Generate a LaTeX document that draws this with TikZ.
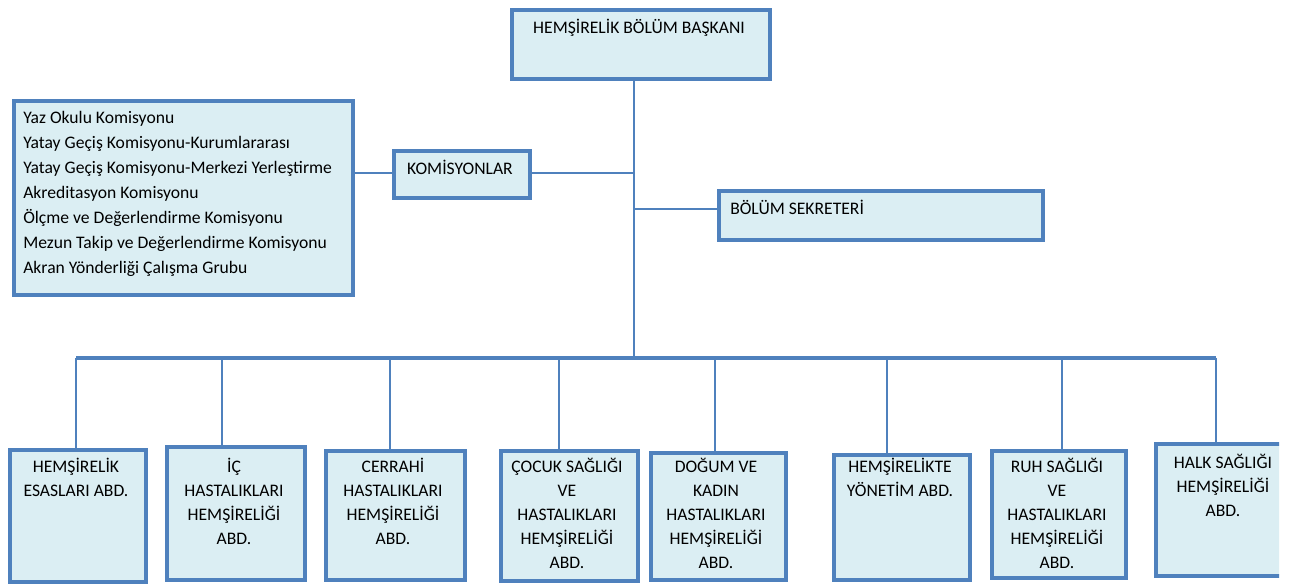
\documentclass[tikz,border=0pt]{standalone}
\usepackage{fontspec}
\setmainfont{Carlito}
\usepackage{xcolor}
\definecolor{boxBlue}{RGB}{79,129,189}
\definecolor{boxFill}{RGB}{219,238,243}

\begin{document}
\begin{tikzpicture}[x=0.75pt, y=-0.75pt,
    box/.style={draw=boxBlue, fill=boxFill, line width=3pt, anchor=north west, inner sep=0pt},
    txt/.style={inner sep=0pt, font=\fontsize{13.2}{18}\selectfont},
    abd/.style={txt, anchor=base, text width=100pt, align=flush center},
    link/.style={draw=boxBlue, line width=2.2pt}]
    \newcommand\pxu{0.75pt}
    \newcommand\busy{358}

    \useasboundingbox (0,0) rectangle (1300,584);

    % top of the chart
    \node[box, minimum width=258*\pxu, minimum height=69*\pxu] (baskan) at (510,8) {};
    \node[txt, anchor=base] (baskanT) at (639,34) {HEMŞİRELİK BÖLÜM BAŞKANI};

    \node[box, minimum width=339*\pxu, minimum height=194*\pxu] (komlist) at (12,99) {};
    \node[txt, anchor=base west, text width=320*\pxu, align=flush left, font=\fontsize{13.2}{18.75}\selectfont] (komlistT) at (23,124)
        {Yaz Okulu Komisyonu\\
         Yatay Geçiş Komisyonu-Kurumlararası\\
         Yatay Geçiş Komisyonu-Merkezi Yerleştirme\\
         Akreditasyon Komisyonu\\
         Ölçme ve Değerlendirme Komisyonu\\
         Mezun Takip ve Değerlendirme Komisyonu\\
         Akran Yönderliği Çalışma Grubu};

    \node[box, minimum width=136*\pxu, minimum height=47*\pxu] (kom) at (392,149) {};
    \node[txt, anchor=base] (komT) at (460,175) {KOMİSYONLAR};

    \node[box, minimum width=324*\pxu, minimum height=49*\pxu] (sek) at (717,189) {};
    \node[txt, anchor=base west] (sekT) at (730,215) {BÖLÜM SEKRETERİ};

    % departments
    \node[box, minimum width=136*\pxu, minimum height=132*\pxu] (esas) at (8,448) {};
    \node[abd] (esasT) at (76,473) {HEMŞİRELİK\\ESASLARI ABD.};

    \node[box, minimum width=138*\pxu, minimum height=133*\pxu] (ic) at (165,445) {};
    \node[abd] (icT) at (234,473) {İÇ\\HASTALIKLARI\\HEMŞİRELİĞİ\\ABD.};

    \node[box, minimum width=139*\pxu, minimum height=129*\pxu] (cerrahi) at (324,449) {};
    \node[abd] (cerrahiT) at (393,473) {CERRAHİ\\HASTALIKLARI\\HEMŞİRELİĞİ\\ABD.};

    \node[box, minimum width=137*\pxu, minimum height=130*\pxu] (cocuk) at (499,449) {};
    \node[abd] (cocukT) at (567,473) {ÇOCUK SAĞLIĞI\\VE\\HASTALIKLARI\\HEMŞİRELİĞİ\\ABD.};

    \node[box, minimum width=135*\pxu, minimum height=127*\pxu] (dogum) at (649,451) {};
    \node[abd] (dogumT) at (716,473) {DOĞUM VE\\KADIN\\HASTALIKLARI\\HEMŞİRELİĞİ\\ABD.};

    \node[box, minimum width=136*\pxu, minimum height=125*\pxu] (yonetim) at (832,453) {};
    \node[abd] (yonetimT) at (900,473) {HEMŞİRELİKTE\\YÖNETİM ABD.};

    \node[box, minimum width=134*\pxu, minimum height=127*\pxu] (ruh) at (990,449) {};
    \node[abd] (ruhT) at (1057,473) {RUH SAĞLIĞI\\VE\\HASTALIKLARI\\HEMŞİRELİĞİ\\ABD.};

    \begin{scope}
        \clip (0,0) rectangle (1279,584);
        \node[box, minimum width=138*\pxu, minimum height=132*\pxu] (halk) at (1154,442) {};
    \end{scope}
    \node[abd] (halkT) at (1223,469) {HALK SAĞLIĞI\\HEMŞİRELİĞİ\\ABD.};

    % connectors
    \coordinate (bus) at (634,\busy);
    \coordinate (busL) at (76,\busy);
    \coordinate (busR) at (1216,\busy);
    \draw[link] (bus |- baskan.south) -- (bus);
    \draw[link] (komlist.east |- 0,173) -- (kom.west |- 0,173);
    \draw[link] (kom.east |- 0,173) -- (bus |- 0,173);
    \draw[link] (bus |- 0,209) -- (sek.west |- 0,209);
    \draw[link, line width=2.8pt] (busL) -- (busR);
    \foreach \x/\n in {76/esas, 222/ic, 390/cerrahi, 559/cocuk, 715/dogum, 887/yonetim, 1062/ruh, 1216/halk}{
        \coordinate (d\n) at (\x,\busy);
        \draw[link] (d\n) -- (d\n |- \n.north);
    }
\end{tikzpicture}
\end{document}
